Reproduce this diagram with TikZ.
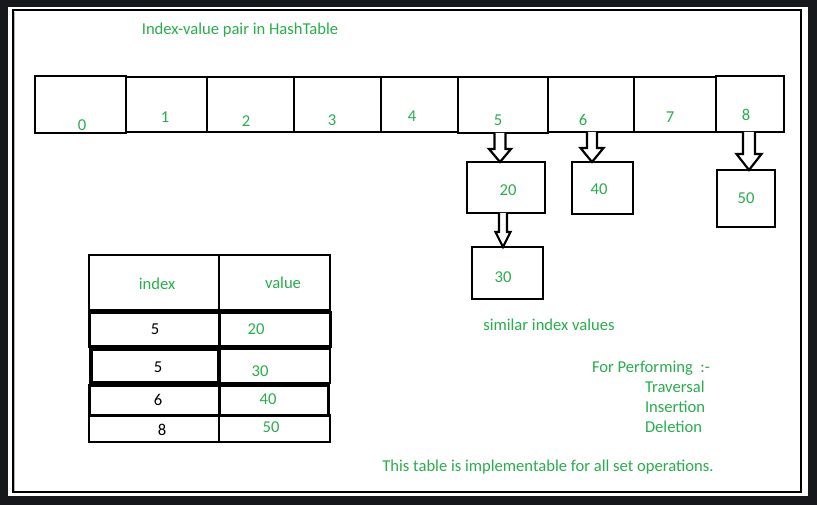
\documentclass[tikz,border=0pt]{standalone}
\usepackage{fontspec}
\setmainfont{Carlito}
\usetikzlibrary{calc}
\definecolor{bgdark}{RGB}{22,24,28}
\definecolor{pgreen}{RGB}{40,175,75}
\newcommand\barrow[6]{\draw[barrowstyle] ($(#1.south -| #3)+(-#4,0)$) -- ($(#2.north -| #3)+(-#4,-#6)$) -- ($(#2.north -| #3)+(-#5,-#6)$) -- (#2.north -| #3) -- ($(#2.north -| #3)+(#5,-#6)$) -- ($(#2.north -| #3)+(#4,-#6)$) -- ($(#1.south -| #3)+(#4,0)$);}
\begin{document}
\begin{tikzpicture}[x=1pt,y=-1pt,
  every node/.style={inner sep=0pt,outer sep=0pt,font=\fontsize{16.6}{19}\selectfont},
  cellbox/.style={draw=black,line width=2.4pt,anchor=north west},
  gtext/.style={text=pgreen},
  btext/.style={text=black},
  barrowstyle/.style={draw=black,line width=2.2pt,line join=miter,fill=white}]
\useasboundingbox (0,0) rectangle (817,505);
\fill[bgdark] (0,0) rectangle (817,505);
\fill[white] (8,7) rectangle (808,496);
\draw[black,line width=2pt] (12.5,10.5) rectangle (801,492);
\draw[gray!60,line width=0.8pt] (14.5,12.5) -- (14.5,490.5);
% title
\node[gtext] (title) at (240,30) {Index-value pair in HashTable};
% hash cells
\node[cellbox,minimum width=91pt,minimum height=57pt,line width=2.8pt] (c0) at (35,76) {};
\node[cellbox,minimum width=81pt,minimum height=55pt] (c1) at (126,77) {};
\node[cellbox,minimum width=87pt,minimum height=55pt] (c2) at (207,77) {};
\node[cellbox,minimum width=87pt,minimum height=55pt] (c3) at (294,77) {};
\node[cellbox,minimum width=77pt,minimum height=55pt] (c4) at (381,77) {};
\node[cellbox,minimum width=90pt,minimum height=56pt,line width=2.8pt] (c5) at (458,77) {};
\node[cellbox,minimum width=86pt,minimum height=55pt] (c6) at (548,77) {};
\node[cellbox,minimum width=82pt,minimum height=55pt] (c7) at (634,77) {};
\node[cellbox,minimum width=68pt,minimum height=56pt] (c8) at (716,76) {};
\node[gtext] (l0) at (82,125) {0};
\node[gtext] (l1) at (165,117) {1};
\node[gtext] (l2) at (246,121) {2};
\node[gtext] (l3) at (332,120) {3};
\node[gtext] (l4) at (412,116) {4};
\node[gtext] (l5) at (498,120) {5};
\node[gtext] (l6) at (583,120) {6};
\node[gtext] (l7) at (670,117) {7};
\node[gtext] (l8) at (746,115) {8};
% chained boxes
\node[cellbox,minimum width=78pt,minimum height=51pt] (b20) at (467,162) {};
\node[cellbox,minimum width=71pt,minimum height=52pt] (b30) at (472,247) {};
\node[cellbox,minimum width=61pt,minimum height=52pt] (b40) at (572,162) {};
\node[cellbox,minimum width=58pt,minimum height=57pt] (b50) at (717,170) {};
\node[gtext] (v20) at (508,190) {20};
\node[gtext] (v30) at (503,277) {30};
\node[gtext] (v40) at (599,189) {40};
\node[gtext] (v50) at (746,198) {50};
% arrows
\coordinate (x5) at (500,0);
\coordinate (x20) at (503,0);
\coordinate (x6) at (592,0);
\coordinate (x8) at (749,0);
\barrow{c5}{b20}{x5}{5.5}{11}{13}
\barrow{b20}{b30}{x20}{4}{7.5}{15}
\barrow{c6}{b40}{x6}{5}{11.5}{14}
\barrow{c8}{b50}{x8}{6}{12.5}{16}
% table
\node[cellbox,minimum width=130pt,minimum height=55pt] (th1) at (89,255) {};
\node[cellbox,minimum width=111pt,minimum height=55pt] (th2) at (219,255) {};
\node[cellbox,minimum width=130pt,minimum height=34pt,line width=3pt] (r1a) at (89,312) {};
\node[cellbox,minimum width=111pt,minimum height=34pt,line width=3pt] (r1b) at (219,312) {};
\node[cellbox,minimum width=128pt,minimum height=34pt,line width=3.2pt] (r2a) at (91,349) {};
\node[cellbox,minimum width=111pt,minimum height=34pt] (r2b) at (219,349) {};
\node[cellbox,minimum width=130pt,minimum height=30pt,line width=3pt] (r3a) at (89,385) {};
\node[cellbox,minimum width=109pt,minimum height=30pt,line width=3pt] (r3b) at (219,385) {};
\node[cellbox,minimum width=130pt,minimum height=27pt] (r4a) at (89,415) {};
\node[cellbox,minimum width=111pt,minimum height=27pt] (r4b) at (219,415) {};
\node[gtext] (hidx) at (157,284) {index};
\node[gtext] (hval) at (283,283) {value};
\node[btext] (i1) at (155,329) {5};
\node[gtext] (w1) at (256,329) {20};
\node[btext] (i2) at (158,367) {5};
\node[gtext] (w2) at (260,371) {30};
\node[btext] (i3) at (158,400) {6};
\node[gtext] (w3) at (268,399) {40};
\node[btext] (i4) at (162,430) {8};
\node[gtext] (w4) at (271,427) {50};
% texts
\node[gtext] (sim) at (549,325) {similar index values};
\node[gtext,anchor=west] (perf) at (592,368) {For Performing~~:-};
\node[gtext,anchor=west] (trav) at (645,387) {Traversal};
\node[gtext,anchor=west] (ins) at (645,407) {Insertion};
\node[gtext,anchor=west] (del) at (645,427) {Deletion};
\node[gtext] (note) at (548,467) {This table is implementable for all set operations.};
\end{tikzpicture}
\end{document}
